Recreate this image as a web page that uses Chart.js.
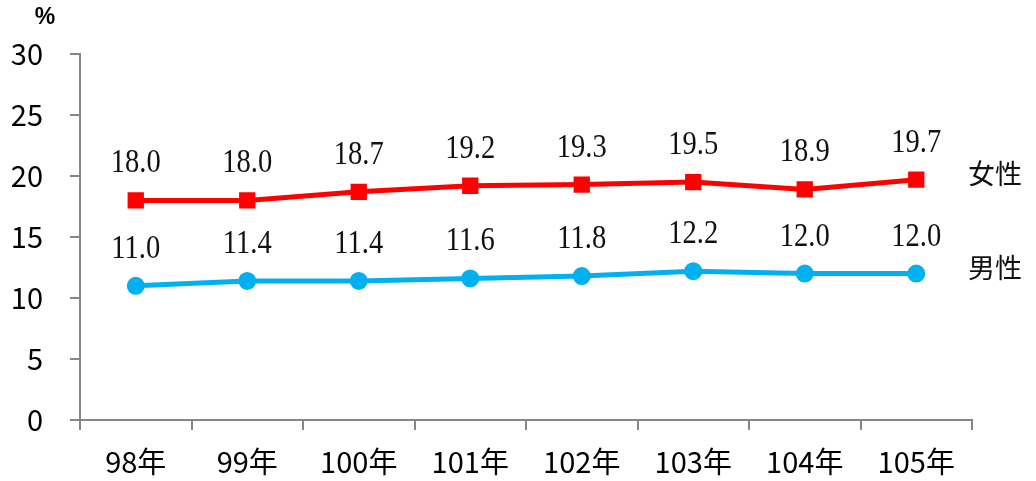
<!DOCTYPE html>
<html>
<head>
<meta charset="utf-8">
<script src="https://cdn.jsdelivr.net/npm/chart.js@4.4.1/dist/chart.umd.min.js"></script>
<style>
  html, body { margin: 0; padding: 0; background: #fff; }
  #wrap { width: 1036px; height: 481px; position: relative; }
</style>
</head>
<body>
<div id="wrap"><canvas id="myChart"></canvas></div>
<script>
const years = ['98年', '99年', '100年', '101年', '102年', '103年', '104年', '105年'];
const female = [18.0, 18.0, 18.7, 19.2, 19.3, 19.5, 18.9, 19.7];
const male = [11.0, 11.4, 11.4, 11.6, 11.8, 12.2, 12.0, 12.0];
const seriesNames = ['女性', '男性'];
const yTicks = [0, 5, 10, 15, 20, 25, 30];

const axisc = '#868686';
const textc = '#000000';

// value labels above points + series names at the right end
const labelsPlugin = {
  id: 'labels',
  afterDatasetsDraw(chart) {
    const ctx = chart.ctx;
    ctx.save();
    chart.data.datasets.forEach(function (ds, i) {
      const meta = chart.getDatasetMeta(i);
      meta.data.forEach(function (pt, j) {
        ctx.save();
        ctx.translate(pt.x, pt.y - 28);
        ctx.scale(0.84, 1);
        ctx.font = '34px "Liberation Serif", serif';
        ctx.fillStyle = '#111';
        ctx.textAlign = 'center';
        ctx.textBaseline = 'alphabetic';
        ctx.fillText(ds.data[j].toFixed(1), 0, 0);
        ctx.restore();
      });
      const last = meta.data[meta.data.length - 1];
      ctx.font = '27px "Noto Sans CJK TC", sans-serif';
      ctx.fillStyle = '#111';
      ctx.textAlign = 'left';
      ctx.textBaseline = 'middle';
      ctx.fillText(seriesNames[i], 968, last.y - 6);
    });
    // unit
    ctx.font = 'bold 23px "Liberation Sans", sans-serif';
    ctx.fillStyle = textc;
    ctx.textAlign = 'center';
    ctx.textBaseline = 'middle';
    ctx.fillText('%', 45, 18);
    ctx.restore();
  }
};

new Chart(document.getElementById('myChart'), {
  type: 'line',
  data: {
    labels: years,
    datasets: [{
      label: seriesNames[0],
      data: female,
      borderColor: '#FF0000',
      backgroundColor: '#FF0000',
      borderWidth: 5,
      pointStyle: 'rect',
      pointRadius: 8,
      pointHoverRadius: 8,
      tension: 0
    }, {
      label: seriesNames[1],
      data: male,
      borderColor: '#00B0F0',
      backgroundColor: '#00B0F0',
      borderWidth: 5,
      pointStyle: 'circle',
      pointRadius: 6.5,
      pointHoverRadius: 6.5,
      tension: 0
    }]
  },
  options: {
    responsive: true,
    maintainAspectRatio: false,
    animation: false,
    layout: { padding: { left: 0, right: 64, top: 54, bottom: 0 } },
    scales: {
      x: {
        offset: true,
        afterFit: function (scale) { scale.height = 61; },
        border: { color: axisc, width: 2 },
        grid: {
          offset: true,
          drawOnChartArea: false,
          color: axisc,
          lineWidth: 2,
          tickLength: 10
        },
        ticks: {
          color: textc,
          padding: 15,
          font: { family: '"Noto Sans CJK TC", sans-serif', size: 29 }
        }
      },
      y: {
        min: 0,
        max: 30,
        afterFit: function (scale) { scale.width = 80; },
        afterBuildTicks: function (scale) {
          scale.ticks = yTicks.map(function (v) { return { value: v }; });
        },
        border: { color: axisc, width: 2 },
        grid: {
          drawOnChartArea: false,
          color: axisc,
          lineWidth: 2,
          tickLength: 10
        },
        ticks: {
          color: textc,
          padding: 27,
          font: { family: '"Noto Sans CJK TC", sans-serif', size: 29 }
        }
      }
    },
    plugins: {
      legend: { display: false },
      tooltip: { enabled: false }
    }
  },
  plugins: [labelsPlugin]
});
</script>
</body>
</html>
